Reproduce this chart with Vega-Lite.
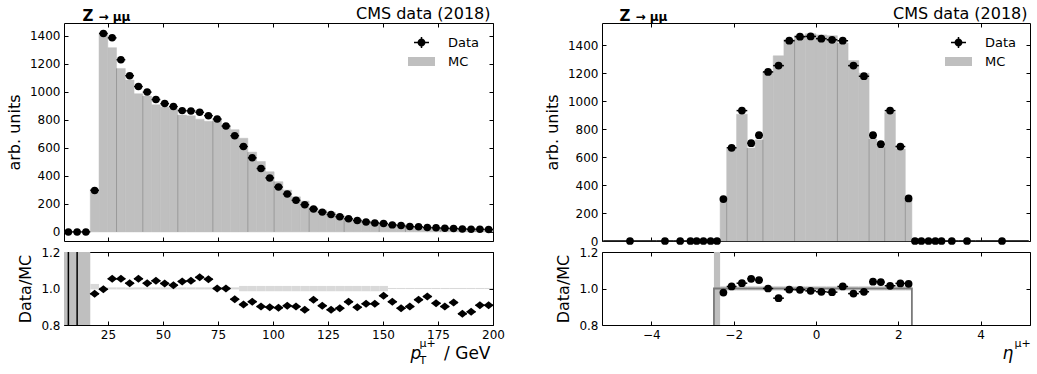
{
  "$schema": "https://vega.github.io/schema/vega-lite/v6.json",
  "padding": {"left": 6, "top": 5, "right": 0, "bottom": 0},
  "background": "white",
  "config": {
    "font": "DejaVu Sans",
    "view": {"stroke": null},
    "axis": {"labelFont": "DejaVu Sans", "titleFont": "DejaVu Sans", "labelFontSize": 12, "titleFontSize": 16, "titleFontWeight": "normal", "labelColor": "black", "titleColor": "black", "domainColor": "black", "tickColor": "black", "tickSize": -4, "labelPadding": 8, "grid": false, "domainWidth": 1, "tickWidth": 1, "labelFlush": false, "titlePadding": 7}
  },
  "datasets": {
    "pt": [
      {"lo": 5, "hi": 8.98, "c": 6.99, "d": 0, "mc": 0, "r": null, "blo": null, "bhi": null},
      {"lo": 8.98, "hi": 12.96, "c": 10.97, "d": 0, "mc": 0, "r": null, "blo": null, "bhi": null},
      {"lo": 12.96, "hi": 16.94, "c": 14.95, "d": 0, "mc": 0, "r": null, "blo": null, "bhi": null},
      {"lo": 16.94, "hi": 20.92, "c": 18.93, "d": 296, "mc": 305, "r": 0.971, "blo": 0.995, "bhi": 1.025},
      {"lo": 20.92, "hi": 24.9, "c": 22.91, "d": 1415, "mc": 1421, "r": 0.996, "blo": 0.995, "bhi": 1.006},
      {"lo": 24.9, "hi": 28.88, "c": 26.89, "d": 1384, "mc": 1314, "r": 1.053, "blo": 0.995, "bhi": 1.006},
      {"lo": 28.88, "hi": 32.86, "c": 30.87, "d": 1228, "mc": 1166, "r": 1.053, "blo": 0.995, "bhi": 1.006},
      {"lo": 32.86, "hi": 36.84, "c": 34.85, "d": 1114, "mc": 1083, "r": 1.029, "blo": 0.995, "bhi": 1.006},
      {"lo": 36.84, "hi": 40.82, "c": 38.83, "d": 1037, "mc": 985, "r": 1.053, "blo": 0.995, "bhi": 1.006},
      {"lo": 40.82, "hi": 44.8, "c": 42.81, "d": 997, "mc": 969, "r": 1.029, "blo": 0.995, "bhi": 1.006},
      {"lo": 44.8, "hi": 48.78, "c": 46.79, "d": 944, "mc": 906, "r": 1.042, "blo": 0.995, "bhi": 1.006},
      {"lo": 48.78, "hi": 52.76, "c": 50.77, "d": 915, "mc": 890, "r": 1.028, "blo": 0.995, "bhi": 1.006},
      {"lo": 52.76, "hi": 56.73, "c": 54.74, "d": 894, "mc": 878, "r": 1.018, "blo": 0.995, "bhi": 1.006},
      {"lo": 56.73, "hi": 60.71, "c": 58.72, "d": 865, "mc": 833, "r": 1.039, "blo": 0.995, "bhi": 1.006},
      {"lo": 60.71, "hi": 64.69, "c": 62.7, "d": 863, "mc": 828, "r": 1.042, "blo": 0.995, "bhi": 1.006},
      {"lo": 64.69, "hi": 68.67, "c": 66.68, "d": 853, "mc": 804, "r": 1.061, "blo": 0.995, "bhi": 1.006},
      {"lo": 68.67, "hi": 72.65, "c": 70.66, "d": 829, "mc": 789, "r": 1.051, "blo": 0.995, "bhi": 1.006},
      {"lo": 72.65, "hi": 76.63, "c": 74.64, "d": 805, "mc": 805, "r": 1.0, "blo": 0.995, "bhi": 1.006},
      {"lo": 76.63, "hi": 80.61, "c": 78.62, "d": 755, "mc": 755, "r": 1.0, "blo": 0.995, "bhi": 1.006},
      {"lo": 80.61, "hi": 84.59, "c": 82.6, "d": 686, "mc": 729, "r": 0.941, "blo": 0.995, "bhi": 1.006},
      {"lo": 84.59, "hi": 88.57, "c": 86.58, "d": 609, "mc": 668, "r": 0.912, "blo": 0.985, "bhi": 1.014},
      {"lo": 88.57, "hi": 92.55, "c": 90.56, "d": 528, "mc": 569, "r": 0.928, "blo": 0.985, "bhi": 1.014},
      {"lo": 92.55, "hi": 96.53, "c": 94.54, "d": 452, "mc": 502, "r": 0.901, "blo": 0.985, "bhi": 1.014},
      {"lo": 96.53, "hi": 100.51, "c": 98.52, "d": 385, "mc": 429, "r": 0.897, "blo": 0.985, "bhi": 1.014},
      {"lo": 100.51, "hi": 104.49, "c": 102.5, "d": 320, "mc": 358, "r": 0.895, "blo": 0.985, "bhi": 1.014},
      {"lo": 104.49, "hi": 108.47, "c": 106.48, "d": 270, "mc": 298, "r": 0.906, "blo": 0.985, "bhi": 1.014},
      {"lo": 108.47, "hi": 112.45, "c": 110.46, "d": 225, "mc": 250, "r": 0.901, "blo": 0.985, "bhi": 1.014},
      {"lo": 112.45, "hi": 116.43, "c": 114.44, "d": 194, "mc": 220, "r": 0.883, "blo": 0.985, "bhi": 1.014},
      {"lo": 116.43, "hi": 120.41, "c": 118.42, "d": 163, "mc": 174, "r": 0.938, "blo": 0.985, "bhi": 1.014},
      {"lo": 120.41, "hi": 124.39, "c": 122.4, "d": 141, "mc": 156, "r": 0.906, "blo": 0.985, "bhi": 1.014},
      {"lo": 124.39, "hi": 128.37, "c": 126.38, "d": 124, "mc": 140, "r": 0.883, "blo": 0.985, "bhi": 1.014},
      {"lo": 128.37, "hi": 132.35, "c": 130.36, "d": 108, "mc": 121, "r": 0.892, "blo": 0.985, "bhi": 1.014},
      {"lo": 132.35, "hi": 136.33, "c": 134.34, "d": 93, "mc": 100, "r": 0.927, "blo": 0.985, "bhi": 1.014},
      {"lo": 136.33, "hi": 140.31, "c": 138.32, "d": 81, "mc": 90, "r": 0.897, "blo": 0.985, "bhi": 1.014},
      {"lo": 140.31, "hi": 144.29, "c": 142.3, "d": 71, "mc": 78, "r": 0.916, "blo": 0.985, "bhi": 1.014},
      {"lo": 144.29, "hi": 148.27, "c": 146.28, "d": 64, "mc": 70, "r": 0.916, "blo": 0.985, "bhi": 1.014},
      {"lo": 148.27, "hi": 152.24, "c": 150.26, "d": 60, "mc": 62.5, "r": 0.96, "blo": 0.985, "bhi": 1.014},
      {"lo": 152.24, "hi": 156.22, "c": 154.23, "d": 50, "mc": 54, "r": 0.927, "blo": 0.997, "bhi": 1.003},
      {"lo": 156.22, "hi": 160.2, "c": 158.21, "d": 45, "mc": 50, "r": 0.892, "blo": 0.997, "bhi": 1.003},
      {"lo": 160.2, "hi": 164.18, "c": 162.19, "d": 38, "mc": 42, "r": 0.901, "blo": 0.997, "bhi": 1.003},
      {"lo": 164.18, "hi": 168.16, "c": 166.17, "d": 36, "mc": 38, "r": 0.939, "blo": 0.997, "bhi": 1.003},
      {"lo": 168.16, "hi": 172.14, "c": 170.15, "d": 31, "mc": 32, "r": 0.956, "blo": 0.997, "bhi": 1.003},
      {"lo": 172.14, "hi": 176.12, "c": 174.13, "d": 29, "mc": 31.5, "r": 0.919, "blo": 0.997, "bhi": 1.003},
      {"lo": 176.12, "hi": 180.1, "c": 178.11, "d": 26, "mc": 29, "r": 0.901, "blo": 0.997, "bhi": 1.003},
      {"lo": 180.1, "hi": 184.08, "c": 182.09, "d": 24, "mc": 26, "r": 0.923, "blo": 0.997, "bhi": 1.003},
      {"lo": 184.08, "hi": 188.06, "c": 186.07, "d": 21, "mc": 24.4, "r": 0.861, "blo": 0.997, "bhi": 1.003},
      {"lo": 188.06, "hi": 192.04, "c": 190.05, "d": 19, "mc": 21.8, "r": 0.872, "blo": 0.997, "bhi": 1.003},
      {"lo": 192.04, "hi": 196.02, "c": 194.03, "d": 19, "mc": 21, "r": 0.908, "blo": 0.997, "bhi": 1.003},
      {"lo": 196.02, "hi": 200, "c": 198.01, "d": 17, "mc": 18.7, "r": 0.908, "blo": 0.997, "bhi": 1.003}
    ],
    "ptedge": [
      {"x": 28.88, "top": 1166}, {"x": 40.82, "top": 969}, {"x": 56.73, "top": 833}, {"x": 72.65, "top": 789},
      {"x": 88.57, "top": 569}, {"x": 100.51, "top": 358}, {"x": 116.43, "top": 174}, {"x": 132.35, "top": 100},
      {"x": 148.27, "top": 62}, {"x": 160.2, "top": 42}, {"x": 176.12, "top": 29}, {"x": 192.04, "top": 21}
    ],
    "ptfull": [{"lo": 5, "hi": 16.94, "ylo": 0.8, "yhi": 1.2}],
    "ptinf": [{"c": 6.99}, {"c": 10.97}],
    "eta": [
      {"lo": -5.17, "hi": -3.87, "c": -4.52, "d": 0, "mc": 0, "r": null, "blo": null, "bhi": null},
      {"lo": -3.87, "hi": -3.47, "c": -3.67, "d": 0, "mc": 0, "r": null, "blo": null, "bhi": null},
      {"lo": -3.47, "hi": -3.13, "c": -3.3, "d": 0, "mc": 0, "r": null, "blo": null, "bhi": null},
      {"lo": -3.13, "hi": -2.97, "c": -3.05, "d": 0, "mc": 0, "r": null, "blo": null, "bhi": null},
      {"lo": -2.97, "hi": -2.83, "c": -2.9, "d": 0, "mc": 0, "r": null, "blo": null, "bhi": null},
      {"lo": -2.83, "hi": -2.64, "c": -2.735, "d": 0, "mc": 0, "r": null, "blo": null, "bhi": null},
      {"lo": -2.64, "hi": -2.48, "c": -2.56, "d": 0, "mc": 0, "r": null, "blo": null, "bhi": null},
      {"lo": -2.48, "hi": -2.33, "c": -2.405, "d": 0, "mc": 0, "r": null, "blo": null, "bhi": null},
      {"lo": -2.33, "hi": -2.17, "c": -2.25, "d": 300, "mc": 307, "r": 0.978, "blo": 0.988, "bhi": 1.014},
      {"lo": -2.17, "hi": -1.93, "c": -2.05, "d": 667, "mc": 660, "r": 1.011, "blo": 0.988, "bhi": 1.014},
      {"lo": -1.93, "hi": -1.67, "c": -1.8, "d": 933, "mc": 907, "r": 1.029, "blo": 0.988, "bhi": 1.014},
      {"lo": -1.67, "hi": -1.48, "c": -1.575, "d": 700, "mc": 665, "r": 1.053, "blo": 0.988, "bhi": 1.014},
      {"lo": -1.48, "hi": -1.29, "c": -1.385, "d": 757, "mc": 724, "r": 1.046, "blo": 0.988, "bhi": 1.014},
      {"lo": -1.29, "hi": -1.04, "c": -1.165, "d": 1210, "mc": 1210, "r": 1.0, "blo": 0.988, "bhi": 1.014},
      {"lo": -1.04, "hi": -0.78, "c": -0.91, "d": 1255, "mc": 1325, "r": 0.947, "blo": 0.988, "bhi": 1.014},
      {"lo": -0.78, "hi": -0.52, "c": -0.65, "d": 1433, "mc": 1442, "r": 0.994, "blo": 0.988, "bhi": 1.014},
      {"lo": -0.52, "hi": -0.26, "c": -0.39, "d": 1462, "mc": 1472, "r": 0.993, "blo": 0.988, "bhi": 1.014},
      {"lo": -0.26, "hi": 0, "c": -0.13, "d": 1464, "mc": 1483, "r": 0.987, "blo": 0.988, "bhi": 1.014},
      {"lo": 0, "hi": 0.26, "c": 0.13, "d": 1448, "mc": 1475, "r": 0.982, "blo": 0.988, "bhi": 1.014},
      {"lo": 0.26, "hi": 0.52, "c": 0.39, "d": 1440, "mc": 1469, "r": 0.98, "blo": 0.988, "bhi": 1.014},
      {"lo": 0.52, "hi": 0.78, "c": 0.65, "d": 1433, "mc": 1417, "r": 1.011, "blo": 0.988, "bhi": 1.014},
      {"lo": 0.78, "hi": 1.04, "c": 0.91, "d": 1255, "mc": 1291, "r": 0.972, "blo": 0.988, "bhi": 1.014},
      {"lo": 1.04, "hi": 1.29, "c": 1.165, "d": 1179, "mc": 1201, "r": 0.982, "blo": 0.988, "bhi": 1.014},
      {"lo": 1.29, "hi": 1.48, "c": 1.385, "d": 757, "mc": 730, "r": 1.037, "blo": 0.988, "bhi": 1.014},
      {"lo": 1.48, "hi": 1.67, "c": 1.575, "d": 693, "mc": 670, "r": 1.035, "blo": 0.988, "bhi": 1.014},
      {"lo": 1.67, "hi": 1.93, "c": 1.8, "d": 933, "mc": 919, "r": 1.015, "blo": 0.988, "bhi": 1.014},
      {"lo": 1.93, "hi": 2.17, "c": 2.05, "d": 676, "mc": 658, "r": 1.028, "blo": 0.988, "bhi": 1.014},
      {"lo": 2.17, "hi": 2.33, "c": 2.25, "d": 305, "mc": 297, "r": 1.026, "blo": 0.988, "bhi": 1.014},
      {"lo": 2.33, "hi": 2.48, "c": 2.405, "d": 0, "mc": 0, "r": null, "blo": null, "bhi": null},
      {"lo": 2.48, "hi": 2.64, "c": 2.56, "d": 0, "mc": 0, "r": null, "blo": null, "bhi": null},
      {"lo": 2.64, "hi": 2.83, "c": 2.735, "d": 0, "mc": 0, "r": null, "blo": null, "bhi": null},
      {"lo": 2.83, "hi": 2.97, "c": 2.9, "d": 0, "mc": 0, "r": null, "blo": null, "bhi": null},
      {"lo": 2.97, "hi": 3.13, "c": 3.05, "d": 0, "mc": 0, "r": null, "blo": null, "bhi": null},
      {"lo": 3.13, "hi": 3.47, "c": 3.3, "d": 0, "mc": 0, "r": null, "blo": null, "bhi": null},
      {"lo": 3.47, "hi": 3.87, "c": 3.67, "d": 0, "mc": 0, "r": null, "blo": null, "bhi": null},
      {"lo": 3.87, "hi": 5.17, "c": 4.52, "d": 0, "mc": 0, "r": null, "blo": null, "bhi": null}
    ],
    "etaedge": [
      {"x": -2.17, "top": 307}, {"x": -1.67, "top": 665}, {"x": -1.29, "top": 724}, {"x": -0.52, "top": 1442},
      {"x": 0.52, "top": 1417}, {"x": 1.29, "top": 730}, {"x": 1.67, "top": 670}, {"x": 2.17, "top": 297}
    ],
    "etagap": [{"lo": -2.48, "hi": -2.33, "ylo": 0.8, "yhi": 1.2}],
    "etastep": [{"i": 0, "x": -2.48, "y": 0.6}, {"i": 1, "x": -2.48, "y": 1.0}, {"i": 2, "x": 2.33, "y": 1.0}, {"i": 3, "x": 2.33, "y": 0.6}]
  },
  "spacing": 39,
  "resolve": {"scale": {"color": "independent", "shape": "independent"}, "legend": {"color": "independent", "shape": "independent"}},
  "hconcat": [
    {
      "spacing": 11,
      "bounds": "flush",
      "resolve": {"scale": {"color": "independent", "shape": "independent"}, "legend": {"color": "independent", "shape": "independent"}},
      "vconcat": [
        {
          "width": 429, "height": 218,
          "resolve": {"axis": {"x": "independent", "y": "independent"}},
          "layer": [
            {
              "data": {"name": "pt"},
              "mark": {"type": "bar", "color": "#bfbfbf", "stroke": "#bfbfbf", "strokeWidth": 0.5},
              "encoding": {
                "x": {"field": "lo", "type": "quantitative", "scale": {"domain": [5, 200], "nice": false, "zero": false}, "axis": {"orient": "bottom", "labels": false, "title": null, "values": [25, 50, 75, 100, 125, 150, 175, 200]}},
                "x2": {"field": "hi"},
                "y": {"field": "mc", "type": "quantitative", "scale": {"domain": [-65, 1490], "nice": false, "zero": false}, "axis": {"orient": "left", "values": [0, 200, 400, 600, 800, 1000, 1200, 1400], "format": "d", "title": "arb. units"}},
                "y2": {"datum": 0}
              }
            },
            {
              "data": {"name": "ptedge"},
              "mark": {"type": "rule", "color": "#999999", "strokeWidth": 1},
              "encoding": {
                "x": {"field": "x", "type": "quantitative", "scale": {"domain": [5, 200], "nice": false, "zero": false}, "axis": {"orient": "top", "labels": false, "values": [25, 50, 75, 100, 125, 150, 175, 200], "title": "Z", "titleFontWeight": "bold", "titleFontSize": 15, "titleX": 18, "titleY": -3, "titleAlign": "left", "titleBaseline": "alphabetic", "titleAngle": 0}},
                "y": {"field": "top", "type": "quantitative", "scale": {"domain": [-65, 1490], "nice": false, "zero": false}, "axis": {"orient": "right", "labels": false, "title": null, "values": [0, 200, 400, 600, 800, 1000, 1200, 1400]}},
                "y2": {"datum": 0}
              }
            },
            {
              "data": {"name": "pt"},
              "mark": {"type": "rule", "color": "black", "strokeWidth": 1.5},
              "encoding": {
                "x": {"field": "lo", "type": "quantitative", "scale": {"domain": [5, 200], "nice": false, "zero": false}, "axis": {"orient": "top", "labels": false, "ticks": false, "domain": false, "title": "→ μμ", "titleFontWeight": "bold", "titleFontSize": 12, "titleX": 34, "titleY": -3, "titleAlign": "left", "titleBaseline": "alphabetic", "titleAngle": 0}},
                "x2": {"field": "hi"},
                "y": {"field": "d", "type": "quantitative", "scale": {"domain": [-65, 1490], "nice": false, "zero": false}, "axis": null}
              }
            },
            {
              "data": {"name": "pt"},
              "mark": {"type": "point", "shape": "circle", "filled": true, "size": 56, "opacity": 1, "color": "black"},
              "encoding": {
                "x": {"field": "c", "type": "quantitative", "scale": {"domain": [5, 200], "nice": false, "zero": false}, "axis": {"orient": "top", "labels": false, "ticks": false, "domain": false, "title": "CMS data (2018)", "titleFontSize": 16, "titleX": 426, "titleY": -5, "titleAlign": "right", "titleBaseline": "alphabetic", "titleAngle": 0}},
                "y": {"field": "d", "type": "quantitative", "scale": {"domain": [-65, 1490], "nice": false, "zero": false}, "axis": null}
              }
            },
            {
              "data": {"name": "pt"},
              "transform": [{"filter": "datum.c < 8"}],
              "mark": {"type": "point", "filled": true, "opacity": 0},
              "encoding": {
                "x": {"field": "c", "type": "quantitative", "scale": {"domain": [5, 200], "nice": false, "zero": false}, "axis": null},
                "y": {"field": "d", "type": "quantitative", "scale": {"domain": [-65, 1490], "nice": false, "zero": false}, "axis": null},
                "color": {"datum": "Data", "type": "nominal", "scale": {"domain": ["Data", "MC"], "range": ["black", "#bfbfbf"]},
                  "legend": {"orient": "top-right", "offset": 13, "padding": 0, "title": null, "labelFontSize": 13, "labelFont": "DejaVu Sans", "labelColor": "black", "symbolSize": 100, "symbolOpacity": 1, "labelOffset": 20, "rowPadding": 5, "symbolStrokeWidth": 0}},
                "shape": {"datum": "Data", "type": "nominal", "scale": {"domain": ["Data", "MC"], "range": ["M-1.5,-0.15H1.5V0.15H-1.5Z M-0.15,-1.1H0.15V1.1H-0.15Z M0.8,0A0.8,0.8 0 1,1 -0.8,0A0.8,0.8 0 1,1 0.8,0Z", "M-2.7,-0.9H2.7V0.9H-2.7Z"]},
                  "legend": {"orient": "top-right", "offset": 13, "padding": 0, "title": null, "labelFontSize": 13, "labelFont": "DejaVu Sans", "labelColor": "black", "symbolSize": 100, "symbolOpacity": 1, "labelOffset": 20, "rowPadding": 5, "symbolStrokeWidth": 0}}
              }
            }
          ]
        },
        {
          "width": 429, "height": 73,
          "resolve": {"axis": {"x": "independent", "y": "independent"}},
          "layer": [
            {
              "data": {"name": "ptfull"},
              "mark": {"type": "rect", "color": "#bfbfbf"},
              "encoding": {
                "x": {"field": "lo", "type": "quantitative", "scale": {"domain": [5, 200], "nice": false, "zero": false}, "axis": {"orient": "bottom", "values": [25, 50, 75, 100, 125, 150, 175, 200], "title": "/ GeV", "titleFontSize": 17, "titleX": 426, "titleY": 33, "titleAlign": "right", "titleBaseline": "alphabetic", "titleAngle": 0}},
                "x2": {"field": "hi"},
                "y": {"field": "ylo", "type": "quantitative", "scale": {"domain": [0.8, 1.2], "nice": false, "zero": false}, "axis": {"orient": "left", "values": [0.8, 1.0, 1.2], "format": ".1f", "title": "Data/MC"}},
                "y2": {"field": "yhi"}
              }
            },
            {
              "data": {"name": "pt"},
              "transform": [{"filter": "isValid(datum.blo)"}],
              "mark": {"type": "rect", "color": "#d9d9d9"},
              "encoding": {
                "x": {"field": "lo", "type": "quantitative", "scale": {"domain": [5, 200], "nice": false, "zero": false}, "axis": {"orient": "top", "labels": false, "title": null, "values": [25, 50, 75, 100, 125, 150, 175, 200]}},
                "x2": {"field": "hi"},
                "y": {"field": "blo", "type": "quantitative", "scale": {"domain": [0.8, 1.2], "nice": false, "zero": false}, "axis": {"orient": "right", "labels": false, "title": null, "values": [0.8, 1.0, 1.2]}},
                "y2": {"field": "bhi"}
              }
            },
            {
              "mark": {"type": "rule", "color": "#7a7a7a", "strokeWidth": 1.8},
              "encoding": {"y": {"datum": 1, "type": "quantitative", "scale": {"domain": [0.8, 1.2], "nice": false, "zero": false}, "axis": null}}
            },
            {
              "data": {"name": "ptinf"},
              "mark": {"type": "rule", "color": "black", "strokeWidth": 1.5},
              "encoding": {
                "x": {"field": "c", "type": "quantitative", "scale": {"domain": [5, 200], "nice": false, "zero": false}, "axis": {"orient": "bottom", "labels": false, "ticks": false, "domain": false, "title": "p", "titleFontSize": 17, "titleFontStyle": "italic", "titleX": 346, "titleY": 33, "titleAlign": "left", "titleBaseline": "alphabetic", "titleAngle": 0}}
              }
            },
            {
              "data": {"name": "pt"},
              "transform": [{"filter": "isValid(datum.r)"}],
              "mark": {"type": "rule", "color": "black", "strokeWidth": 1.5},
              "encoding": {
                "x": {"field": "lo", "type": "quantitative", "scale": {"domain": [5, 200], "nice": false, "zero": false}, "axis": {"orient": "bottom", "labels": false, "ticks": false, "domain": false, "title": "T", "titleFontSize": 11, "titleX": 355, "titleY": 38, "titleAlign": "left", "titleBaseline": "alphabetic", "titleAngle": 0}},
                "x2": {"field": "hi"},
                "y": {"field": "r", "type": "quantitative", "scale": {"domain": [0.8, 1.2], "nice": false, "zero": false}, "axis": null}
              }
            },
            {
              "data": {"name": "pt"},
              "transform": [{"filter": "isValid(datum.r)"}],
              "mark": {"type": "point", "shape": "M-1.25,0L0,-1L1.25,0L0,1Z", "filled": true, "color": "black", "size": 64, "opacity": 1},
              "encoding": {
                "x": {"field": "c", "type": "quantitative", "scale": {"domain": [5, 200], "nice": false, "zero": false}, "axis": {"orient": "bottom", "labels": false, "ticks": false, "domain": false, "title": "μ+", "titleFontSize": 11, "titleX": 355, "titleY": 21, "titleAlign": "left", "titleBaseline": "alphabetic", "titleAngle": 0}},
                "y": {"field": "r", "type": "quantitative", "scale": {"domain": [0.8, 1.2], "nice": false, "zero": false}, "axis": null}
              }
            }
          ]
        }
      ]
    },
    {
      "spacing": 11,
      "bounds": "flush",
      "resolve": {"scale": {"color": "independent", "shape": "independent"}, "legend": {"color": "independent", "shape": "independent"}},
      "vconcat": [
        {
          "width": 428, "height": 218,
          "resolve": {"axis": {"x": "independent", "y": "independent"}},
          "layer": [
            {
              "data": {"name": "eta"},
              "mark": {"type": "bar", "color": "#bfbfbf", "stroke": "#bfbfbf", "strokeWidth": 0.5},
              "encoding": {
                "x": {"field": "lo", "type": "quantitative", "scale": {"domain": [-5.2, 5.2], "nice": false, "zero": false}, "axis": {"orient": "bottom", "labels": false, "title": null, "values": [-4, -2, 0, 2, 4]}},
                "x2": {"field": "hi"},
                "y": {"field": "mc", "type": "quantitative", "scale": {"domain": [0, 1560], "nice": false, "zero": false}, "axis": {"orient": "left", "values": [0, 200, 400, 600, 800, 1000, 1200, 1400], "format": "d", "title": "arb. units"}},
                "y2": {"datum": 0}
              }
            },
            {
              "data": {"name": "etaedge"},
              "mark": {"type": "rule", "color": "#999999", "strokeWidth": 1},
              "encoding": {
                "x": {"field": "x", "type": "quantitative", "scale": {"domain": [-5.2, 5.2], "nice": false, "zero": false}, "axis": {"orient": "top", "labels": false, "values": [-4, -2, 0, 2, 4], "title": "Z", "titleFontWeight": "bold", "titleFontSize": 15, "titleX": 17, "titleY": -3, "titleAlign": "left", "titleBaseline": "alphabetic", "titleAngle": 0}},
                "y": {"field": "top", "type": "quantitative", "scale": {"domain": [0, 1560], "nice": false, "zero": false}, "axis": {"orient": "right", "labels": false, "title": null, "values": [0, 200, 400, 600, 800, 1000, 1200, 1400]}},
                "y2": {"datum": 0}
              }
            },
            {
              "data": {"name": "eta"},
              "mark": {"type": "rule", "color": "black", "strokeWidth": 1.5},
              "encoding": {
                "x": {"field": "lo", "type": "quantitative", "scale": {"domain": [-5.2, 5.2], "nice": false, "zero": false}, "axis": {"orient": "top", "labels": false, "ticks": false, "domain": false, "title": "→ μμ", "titleFontWeight": "bold", "titleFontSize": 12, "titleX": 33, "titleY": -3, "titleAlign": "left", "titleBaseline": "alphabetic", "titleAngle": 0}},
                "x2": {"field": "hi"},
                "y": {"field": "d", "type": "quantitative", "scale": {"domain": [0, 1560], "nice": false, "zero": false}, "axis": null}
              }
            },
            {
              "data": {"name": "eta"},
              "mark": {"type": "point", "shape": "circle", "filled": true, "size": 60, "opacity": 1, "color": "black"},
              "encoding": {
                "x": {"field": "c", "type": "quantitative", "scale": {"domain": [-5.2, 5.2], "nice": false, "zero": false}, "axis": {"orient": "top", "labels": false, "ticks": false, "domain": false, "title": "CMS data (2018)", "titleFontSize": 16, "titleX": 425, "titleY": -5, "titleAlign": "right", "titleBaseline": "alphabetic", "titleAngle": 0}},
                "y": {"field": "d", "type": "quantitative", "scale": {"domain": [0, 1560], "nice": false, "zero": false}, "axis": null}
              }
            },
            {
              "data": {"name": "eta"},
              "transform": [{"filter": "datum.c < -4"}],
              "mark": {"type": "point", "filled": true, "opacity": 0},
              "encoding": {
                "x": {"field": "c", "type": "quantitative", "scale": {"domain": [-5.2, 5.2], "nice": false, "zero": false}, "axis": null},
                "y": {"field": "d", "type": "quantitative", "scale": {"domain": [0, 1560], "nice": false, "zero": false}, "axis": null},
                "color": {"datum": "Data", "type": "nominal", "scale": {"domain": ["Data", "MC"], "range": ["black", "#bfbfbf"]},
                  "legend": {"orient": "top-right", "offset": 13, "padding": 0, "title": null, "labelFontSize": 13, "labelFont": "DejaVu Sans", "labelColor": "black", "symbolSize": 100, "symbolOpacity": 1, "labelOffset": 20, "rowPadding": 5, "symbolStrokeWidth": 0}},
                "shape": {"datum": "Data", "type": "nominal", "scale": {"domain": ["Data", "MC"], "range": ["M-1.5,-0.15H1.5V0.15H-1.5Z M-0.15,-1.1H0.15V1.1H-0.15Z M0.8,0A0.8,0.8 0 1,1 -0.8,0A0.8,0.8 0 1,1 0.8,0Z", "M-2.7,-0.9H2.7V0.9H-2.7Z"]},
                  "legend": {"orient": "top-right", "offset": 13, "padding": 0, "title": null, "labelFontSize": 13, "labelFont": "DejaVu Sans", "labelColor": "black", "symbolSize": 100, "symbolOpacity": 1, "labelOffset": 20, "rowPadding": 5, "symbolStrokeWidth": 0}}
              }
            }
          ]
        },
        {
          "width": 428, "height": 73,
          "resolve": {"axis": {"x": "independent", "y": "independent"}},
          "layer": [
            {
              "data": {"name": "etagap"},
              "mark": {"type": "rect", "color": "#bfbfbf"},
              "encoding": {
                "x": {"field": "lo", "type": "quantitative", "scale": {"domain": [-5.2, 5.2], "nice": false, "zero": false}, "axis": {"orient": "bottom", "values": [-4, -2, 0, 2, 4], "title": null}},
                "x2": {"field": "hi"},
                "y": {"field": "ylo", "type": "quantitative", "scale": {"domain": [0.8, 1.2], "nice": false, "zero": false}, "axis": {"orient": "left", "values": [0.8, 1.0, 1.2], "format": ".1f", "title": "Data/MC"}},
                "y2": {"field": "yhi"}
              }
            },
            {
              "data": {"name": "eta"},
              "transform": [{"filter": "isValid(datum.blo)"}],
              "mark": {"type": "rect", "color": "#d9d9d9"},
              "encoding": {
                "x": {"field": "lo", "type": "quantitative", "scale": {"domain": [-5.2, 5.2], "nice": false, "zero": false}, "axis": {"orient": "top", "labels": false, "title": null, "values": [-4, -2, 0, 2, 4]}},
                "x2": {"field": "hi"},
                "y": {"field": "blo", "type": "quantitative", "scale": {"domain": [0.8, 1.2], "nice": false, "zero": false}, "axis": {"orient": "right", "labels": false, "title": null, "values": [0.8, 1.0, 1.2]}},
                "y2": {"field": "bhi"}
              }
            },
            {
              "mark": {"type": "rule", "color": "#a6a6a6", "strokeWidth": 1, "strokeDash": [4, 3]},
              "encoding": {"y": {"datum": 1, "type": "quantitative", "scale": {"domain": [0.8, 1.2], "nice": false, "zero": false}, "axis": null}}
            },
            {
              "data": {"name": "etastep"},
              "mark": {"type": "line", "color": "#7a7a7a", "strokeWidth": 1.8, "clip": true},
              "encoding": {
                "x": {"field": "x", "type": "quantitative", "scale": {"domain": [-5.2, 5.2], "nice": false, "zero": false}, "axis": {"orient": "bottom", "labels": false, "ticks": false, "domain": false, "title": "η", "titleFontSize": 17, "titleFontStyle": "italic", "titleX": 400, "titleY": 33, "titleAlign": "left", "titleBaseline": "alphabetic", "titleAngle": 0}},
                "y": {"field": "y", "type": "quantitative", "scale": {"domain": [0.8, 1.2], "nice": false, "zero": false}, "axis": null},
                "order": {"field": "i", "type": "quantitative"}
              }
            },
            {
              "data": {"name": "eta"},
              "transform": [{"filter": "isValid(datum.r)"}],
              "mark": {"type": "rule", "color": "black", "strokeWidth": 1.5},
              "encoding": {
                "x": {"field": "lo", "type": "quantitative", "scale": {"domain": [-5.2, 5.2], "nice": false, "zero": false}, "axis": {"orient": "bottom", "labels": false, "ticks": false, "domain": false, "title": "μ+", "titleFontSize": 11, "titleX": 412, "titleY": 21, "titleAlign": "left", "titleBaseline": "alphabetic", "titleAngle": 0}},
                "x2": {"field": "hi"},
                "y": {"field": "r", "type": "quantitative", "scale": {"domain": [0.8, 1.2], "nice": false, "zero": false}, "axis": null}
              }
            },
            {
              "data": {"name": "eta"},
              "transform": [{"filter": "isValid(datum.r)"}],
              "mark": {"type": "point", "shape": "circle", "filled": true, "color": "black", "size": 60, "opacity": 1},
              "encoding": {
                "x": {"field": "c", "type": "quantitative", "scale": {"domain": [-5.2, 5.2], "nice": false, "zero": false}, "axis": null},
                "y": {"field": "r", "type": "quantitative", "scale": {"domain": [0.8, 1.2], "nice": false, "zero": false}, "axis": null}
              }
            }
          ]
        }
      ]
    }
  ]
}
